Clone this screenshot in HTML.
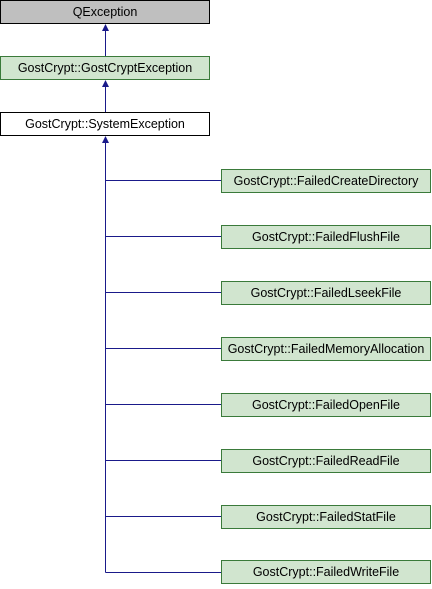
<!DOCTYPE html>
<html><head><style>html,body{margin:0;padding:0;background:#fff}</style></head><body>
<svg width="432" height="584" xmlns="http://www.w3.org/2000/svg" font-family="Liberation Sans, sans-serif" font-size="12.5">
<g stroke="#1a1a8a" stroke-width="1" fill="none">
<line x1="105.5" y1="26" x2="105.5" y2="56"/>
<line x1="105.5" y1="82" x2="105.5" y2="112"/>
<line x1="105.5" y1="138" x2="105.5" y2="572.5"/>
<line x1="105.5" y1="180.5" x2="221" y2="180.5"/>
<line x1="105.5" y1="236.5" x2="221" y2="236.5"/>
<line x1="105.5" y1="292.5" x2="221" y2="292.5"/>
<line x1="105.5" y1="348.5" x2="221" y2="348.5"/>
<line x1="105.5" y1="404.5" x2="221" y2="404.5"/>
<line x1="105.5" y1="460.5" x2="221" y2="460.5"/>
<line x1="105.5" y1="516.5" x2="221" y2="516.5"/>
<line x1="105.5" y1="572.5" x2="221" y2="572.5"/>
</g>
<g fill="#1a1a8a">
<polygon points="105.5,24 102,31 109,31"/>
<polygon points="105.5,80 102,87 109,87"/>
<polygon points="105.5,136 102,143 109,143"/>
</g>
<rect x="0.5" y="0.5" width="209" height="23" fill="#bfbfbf" stroke="#000"/>
<text x="105" y="16" text-anchor="middle">QException</text>
<rect x="0.5" y="56.5" width="209" height="23" fill="#d1e5cf" stroke="#3a7a3a"/>
<text x="105" y="72" text-anchor="middle">GostCrypt::GostCryptException</text>
<rect x="0.5" y="112.5" width="209" height="23" fill="#fff" stroke="#000"/>
<text x="105" y="128" text-anchor="middle">GostCrypt::SystemException</text>
<g fill="#d1e5cf" stroke="#3a7a3a">
<rect x="221.5" y="169.5" width="209" height="23"/>
<rect x="221.5" y="225.5" width="209" height="23"/>
<rect x="221.5" y="281.5" width="209" height="23"/>
<rect x="221.5" y="337.5" width="209" height="23"/>
<rect x="221.5" y="393.5" width="209" height="23"/>
<rect x="221.5" y="449.5" width="209" height="23"/>
<rect x="221.5" y="505.5" width="209" height="23"/>
<rect x="221.5" y="560.5" width="209" height="23"/>
</g>
<g text-anchor="middle">
<text x="326" y="185">GostCrypt::FailedCreateDirectory</text>
<text x="326" y="241">GostCrypt::FailedFlushFile</text>
<text x="326" y="297">GostCrypt::FailedLseekFile</text>
<text x="326" y="353">GostCrypt::FailedMemoryAllocation</text>
<text x="326" y="409">GostCrypt::FailedOpenFile</text>
<text x="326" y="465">GostCrypt::FailedReadFile</text>
<text x="326" y="521">GostCrypt::FailedStatFile</text>
<text x="326" y="576">GostCrypt::FailedWriteFile</text>
</g>
</svg>
</body></html>
